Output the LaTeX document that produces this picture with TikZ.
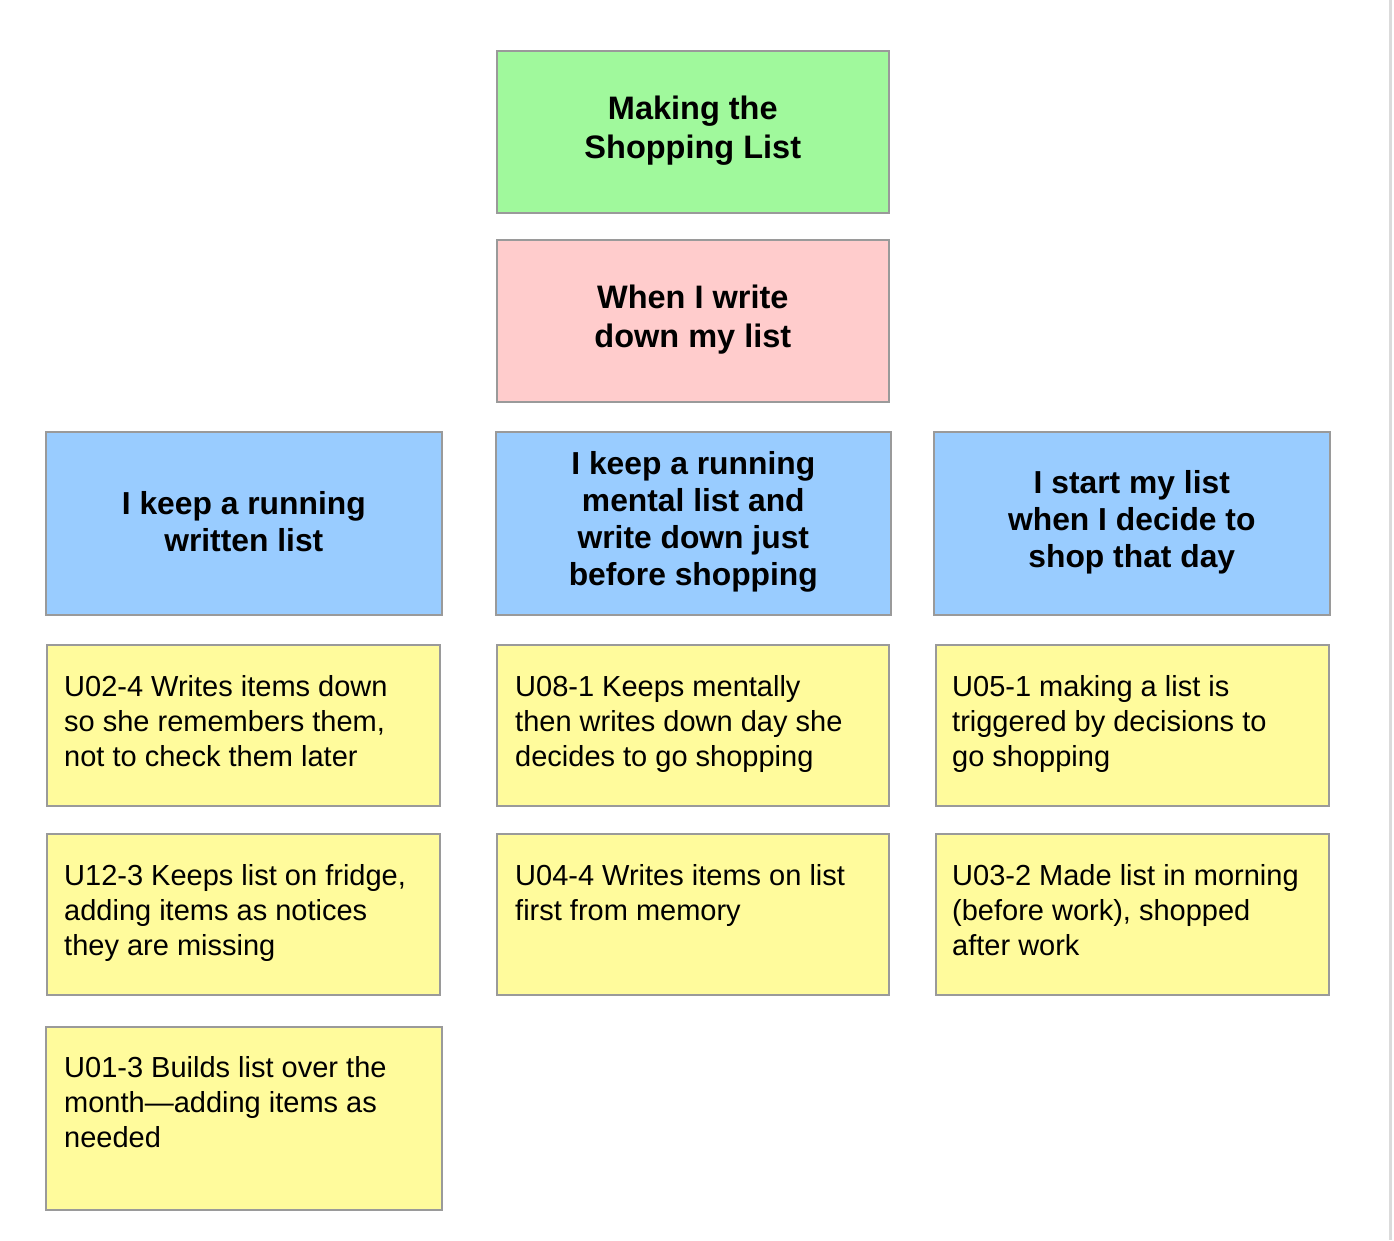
\documentclass[tikz,border=0pt]{standalone}
\usepackage{fontspec}
\setmainfont{Liberation Sans}
\definecolor{cgreen}{HTML}{A0F99C}
\definecolor{cpink}{HTML}{FFCCCC}
\definecolor{cblue}{HTML}{99CCFF}
\definecolor{cyellow}{HTML}{FFFB9C}
\definecolor{cedge}{HTML}{9A9A9A}
\begin{document}
\begin{tikzpicture}[x=1pt,y=-1pt,
  card/.style={draw=cedge, line width=1.6pt, inner sep=0pt, anchor=north west},
  headtext/.style={font=\bfseries\fontsize{32.5}{39.5}\selectfont, align=center, inner sep=0pt},
  bluetext/.style={font=\bfseries\fontsize{31.8}{37.3}\selectfont, align=center, inner sep=0pt},
  notetext/.style={font=\fontsize{29}{35}\selectfont, align=left, anchor=north west, inner sep=0pt}]
\useasboundingbox (0,0) rectangle (1394,1240);
\fill[white] (0,0) rectangle (1394,1240);
\draw[line width=3pt, draw=black!14] (1390,0) -- (1390,1240);
% boxes
\newcommand{\cardbox}[6]{\node[card, fill=#6, minimum width=#3-#1, minimum height=#4-#2] (#5) at (#1,#2) {};}
\cardbox{496}{50}{888}{212}{title}{cgreen}
\cardbox{496}{239}{888}{401}{when}{cpink}
\cardbox{45}{431}{441}{614}{b1}{cblue}
\cardbox{495}{431}{890}{614}{b2}{cblue}
\cardbox{933}{431}{1329}{614}{b3}{cblue}
\cardbox{46}{644}{439}{805}{y11}{cyellow}
\cardbox{496}{644}{888}{805}{y21}{cyellow}
\cardbox{935}{644}{1328}{805}{y31}{cyellow}
\cardbox{46}{833}{439}{994}{y12}{cyellow}
\cardbox{496}{833}{888}{994}{y22}{cyellow}
\cardbox{935}{833}{1328}{994}{y32}{cyellow}
\cardbox{45}{1026}{441}{1209}{y13}{cyellow}
% heading texts
\node[headtext] (ttitle) at ([yshift=1]title.center) {Making the\\Shopping List};
\node[headtext] (twhen) at ([yshift=1]when.center) {When I write\\down my list};
\node[bluetext] (tb1) at ([yshift=2]b1.center) {I keep a running\\written list};
\node[bluetext] (tb2) at ([yshift=1.5]b2.center) {I keep a running\\mental list and\\write down just\\before shopping};
\node[bluetext] (tb3) at ([yshift=1]b3.center) {I start my list\\when I decide to\\shop that day};
% note texts
\node[notetext] (ty11) at ([xshift=18,yshift=-31]y11.north west) {U02-4 Writes items down\\so she remembers them,\\not to check them later};
\node[notetext] (ty21) at ([xshift=19,yshift=-31]y21.north west) {U08-1 Keeps mentally\\then writes down day she\\decides to go shopping};
\node[notetext] (ty31) at ([xshift=17,yshift=-31]y31.north west) {U05-1 making a list is\\triggered by decisions to\\go shopping};
\node[notetext] (ty12) at ([xshift=18,yshift=-31]y12.north west) {U12-3 Keeps list on fridge,\\adding items as notices\\they are missing};
\node[notetext] (ty22) at ([xshift=19,yshift=-31]y22.north west) {U04-4 Writes items on list\\first from memory};
\node[notetext] (ty32) at ([xshift=17,yshift=-31]y32.north west) {U03-2 Made list in morning\\(before work), shopped\\after work};
\node[notetext] (ty13) at ([xshift=19,yshift=-30]y13.north west) {U01-3 Builds list over the\\month---adding items as\\needed};
\end{tikzpicture}
\end{document}
